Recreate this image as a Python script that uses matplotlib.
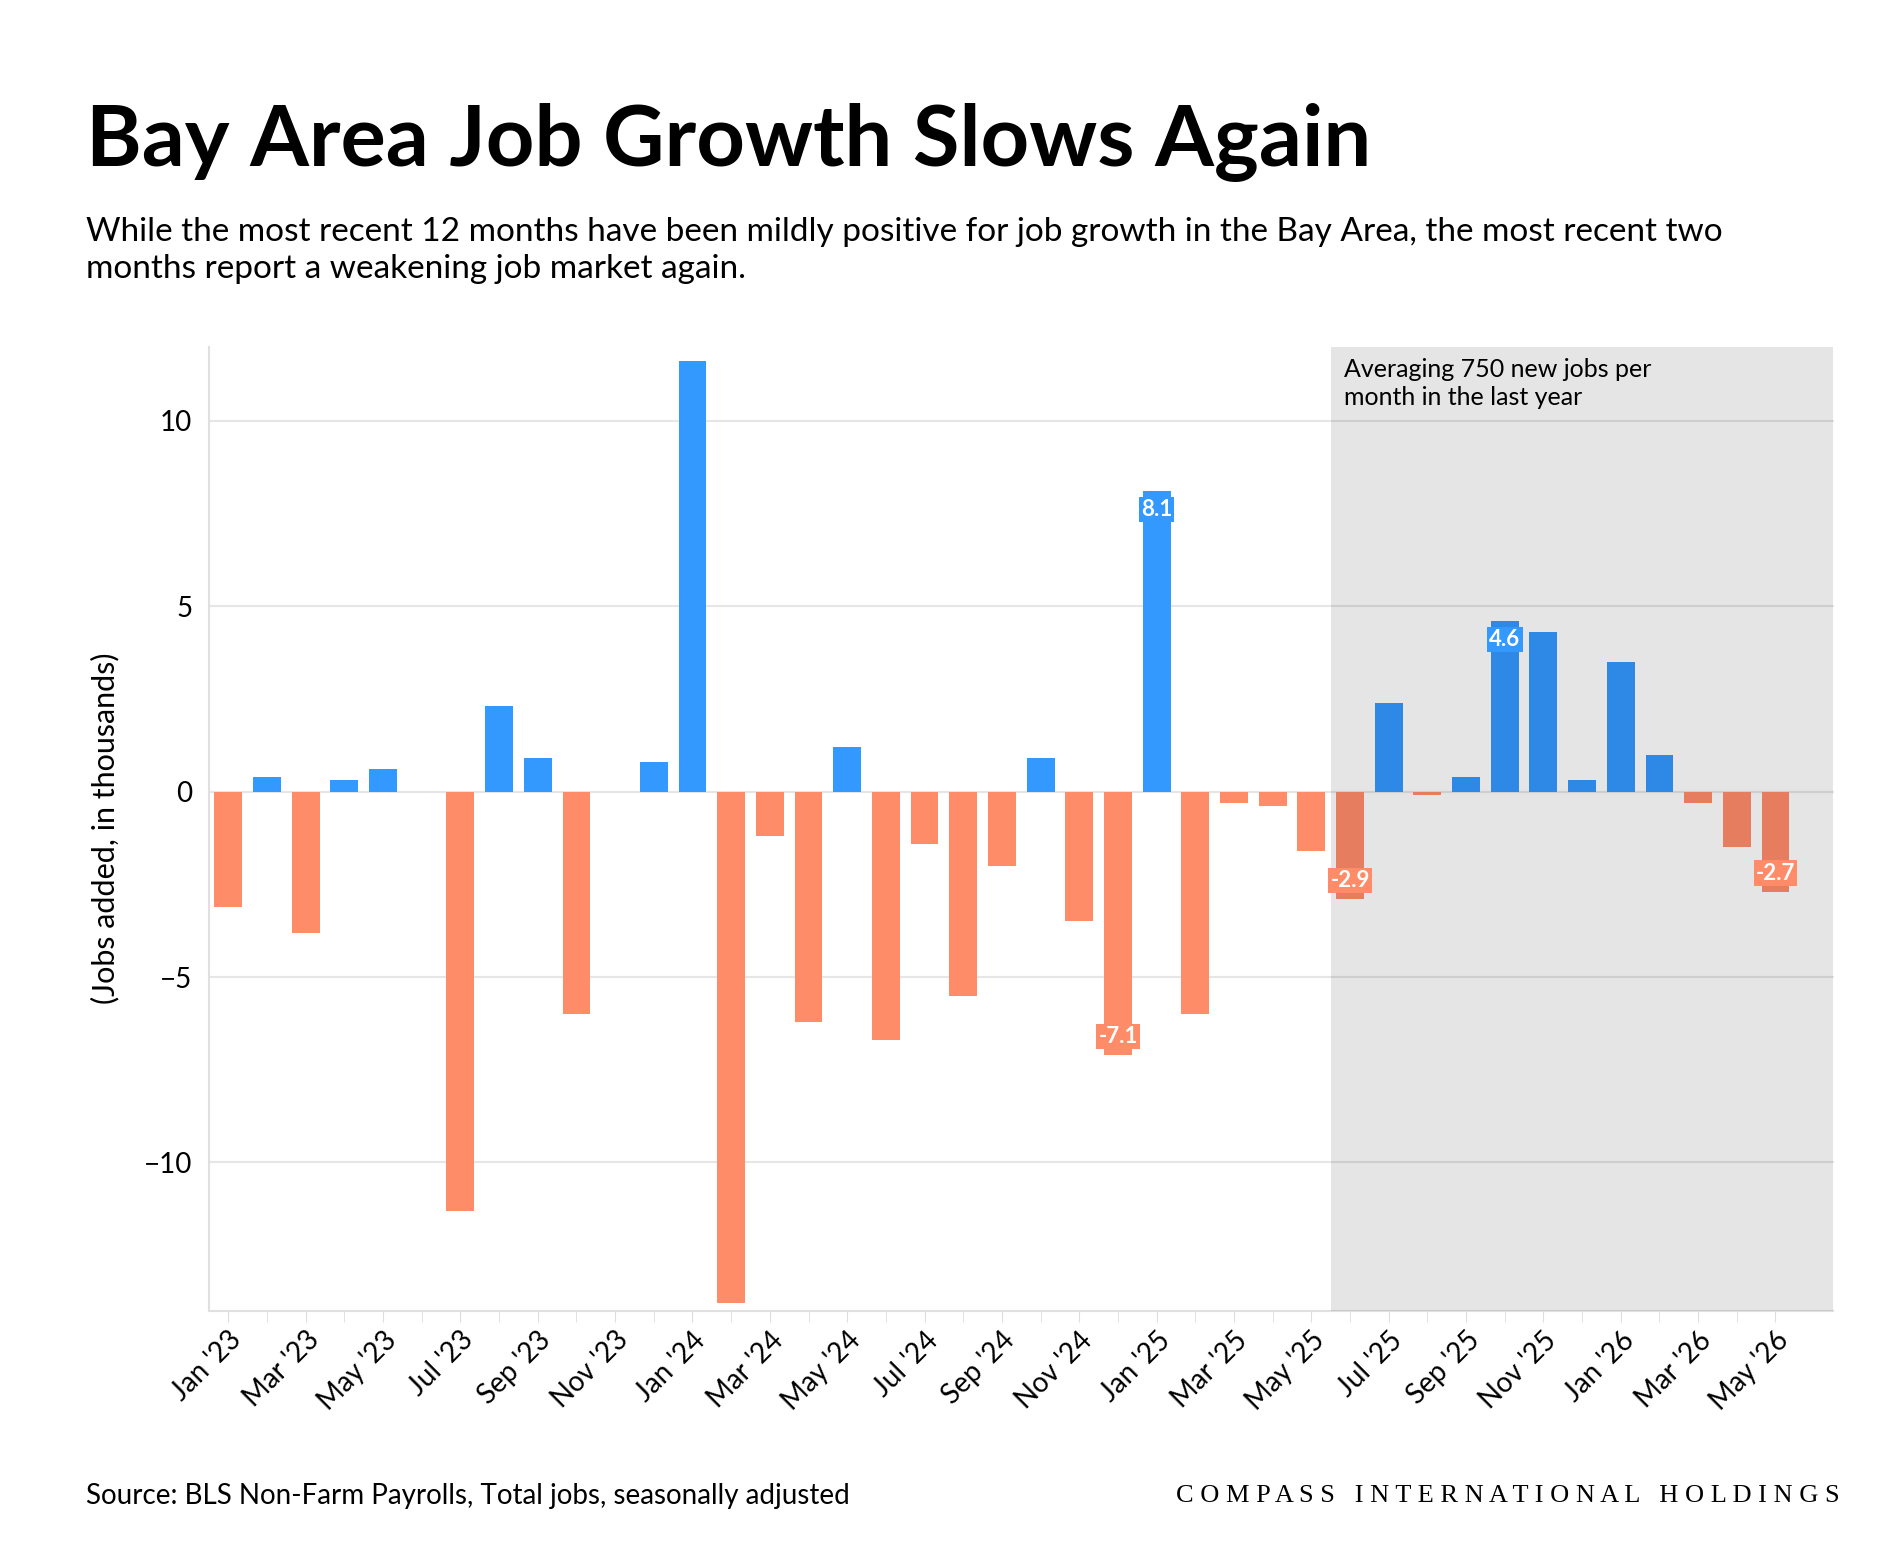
import matplotlib.pyplot as plt
import numpy as np

months = ["Jan '23", "Feb '23", "Mar '23", "Apr '23", "May '23", "Jun '23", "Jul '23", "Aug '23",
          "Sep '23", "Oct '23", "Nov '23", "Dec '23", "Jan '24", "Feb '24", "Mar '24", "Apr '24",
          "May '24", "Jun '24", "Jul '24", "Aug '24", "Sep '24", "Oct '24", "Nov '24", "Dec '24",
          "Jan '25", "Feb '25", "Mar '25", "Apr '25", "May '25", "Jun '25", "Jul '25", "Aug '25",
          "Sep '25", "Oct '25", "Nov '25", "Dec '25", "Jan '26", "Feb '26", "Mar '26", "Apr '26",
          "May '26"]
jobs = [-3.1, 0.4, -3.8, 0.3, 0.6, 0.0, -11.3, 2.3, 0.9, -6.0, 0.0, 0.8, 11.6, -13.8, -1.2, -6.2,
        1.2, -6.7, -1.4, -5.5, -2.0, 0.9, -3.5, -7.1, 8.1, -6.0, -0.3, -0.4, -1.6, -2.9, 2.4, -0.1,
        0.4, 4.6, 4.3, 0.3, 3.5, 1.0, -0.3, -1.5, -2.7]
labelled = ["Dec '24", "Jan '25", "Jun '25", "Oct '25", "May '26"]

BLUE = '#3399ff'
SALMON = '#ff8c69'
plt.rcParams['font.family'] = ['Lato', 'DejaVu Sans']

fig = plt.figure(figsize=(19, 15.68), dpi=100)
ax = fig.add_axes([0.11, 0.164, 0.855, 0.615])
x = np.arange(len(jobs))
colors = [BLUE if v >= 0 else SALMON for v in jobs]
ax.bar(x, jobs, width=0.72, color=colors, zorder=2)

xmax = len(jobs) - 0.5 + 1.0
start = months.index("Jun '25") - 0.5
ax.axvspan(start, xmax, color='black', alpha=0.1, lw=0, zorder=3)
ax.text(start + 0.35, 11.7, "Averaging 750 new jobs per\nmonth in the last year",
        fontsize=18, va='top', ha='left', zorder=4, linespacing=1.3)

for m in labelled:
    i = months.index(m)
    v = jobs[i]
    c = BLUE if v >= 0 else SALMON
    ax.text(i, v - 0.5 if v > 0 else v + 0.5, f"{v:g}", ha='center', va='center',
            color='white', fontsize=16, fontweight='bold', zorder=5,
            bbox=dict(boxstyle='square,pad=0.1', fc=c, ec='none'))

ax.set_xlim(-0.5, xmax)
ax.set_ylim(-14, 12)
ax.set_yticks([-10, -5, 0, 5, 10])
ax.set_xticks(x[::2])
ax.set_xticklabels(months[::2], rotation=45, ha='right', rotation_mode='anchor', fontsize=20)
ax.set_xticks(x, minor=True)
ax.tick_params(axis='y', labelsize=20, length=0, pad=12)
ax.tick_params(axis='x', which='both', length=8, color='#dddddd')
ax.grid(axis='y', color='#e6e6e6', lw=1.5, zorder=0)
ax.axhline(0, color='#dddddd', lw=1.5, zorder=1)
for s in ['top', 'right']:
    ax.spines[s].set_visible(False)
for s in ['left', 'bottom']:
    ax.spines[s].set_color('#e0e0e0')
    ax.spines[s].set_linewidth(1.5)
ax.set_ylabel("(Jobs added, in thousands)", fontsize=22, labelpad=18)

fig.text(0.045, 0.91, "Bay Area Job Growth Slows Again", fontsize=61, fontweight='bold', va='center')
fig.text(0.045, 0.84, "While the most recent 12 months have been mildly positive for job growth in the Bay Area, the most recent two\nmonths report a weakening job market again.",
         fontsize=24, va='center', linespacing=1.3)
fig.text(0.045, 0.046, "Source: BLS Non-Farm Payrolls, Total jobs, seasonally adjusted", fontsize=20, va='center')
fig.text(0.968, 0.046, "C O M P A S S   I N T E R N A T I O N A L   H O L D I N G S", fontsize=19, va='center', ha='right',
         family=['Liberation Serif', 'DejaVu Serif'])

fig.savefig('out.png', dpi=100, facecolor='white')
